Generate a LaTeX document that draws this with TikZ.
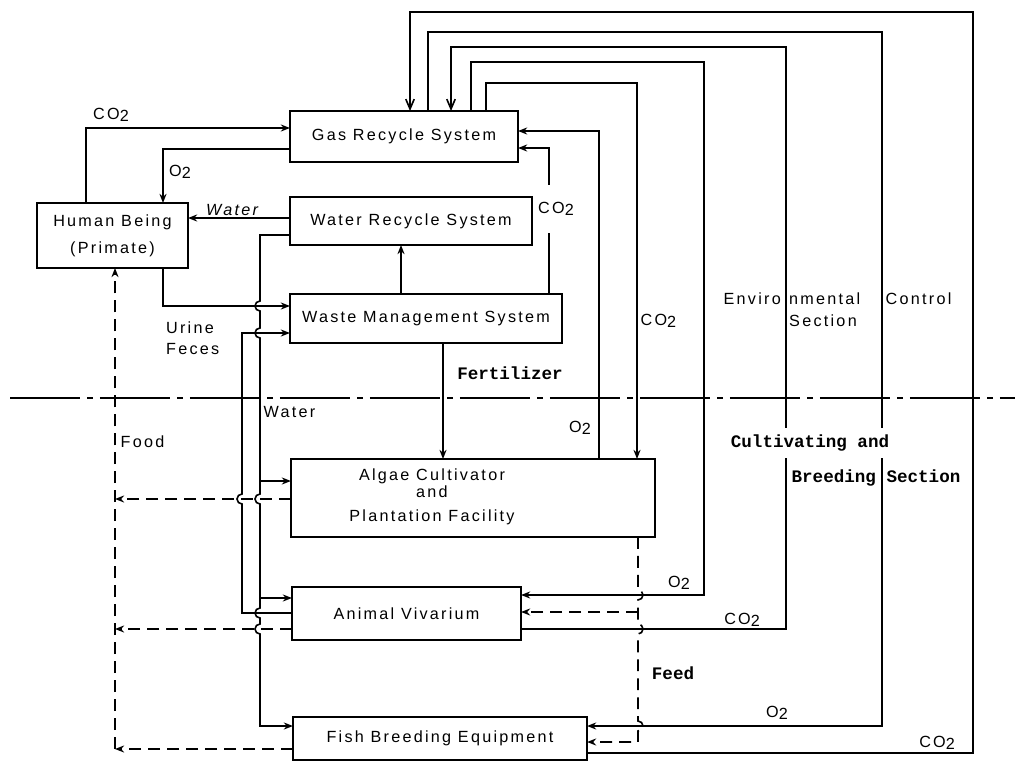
\documentclass[tikz,border=0pt]{standalone}
\usepackage{fontspec}
\setmainfont{Liberation Sans}
\newfontfamily\lettering[LetterSpace=14]{Liberation Sans}
\newfontfamily\typer{Liberation Mono}
\usetikzlibrary{arrows.meta}
\newcommand\cotwo{CO\raisebox{-0.3ex}{2}}
\newcommand\otwo{O\raisebox{-0.3ex}{2}}

\tikzset{
  box/.style={draw, line width=1.3pt, inner sep=0pt, outer sep=0pt, align=center,
    font=\lettering\fontsize{11.5}{19}\selectfont},
  flow/.style={line width=1.15pt},
  tip/.style={-{Stealth[length=6.5pt,width=5pt]}},
  vtip/.style={-{Straight Barb[length=7pt,width=6pt]}},
  food/.style={flow, dash pattern=on 8.5pt off 5pt},
  lbl/.style={font=\lettering\fontsize{11.5}{13}\selectfont, inner sep=1pt},
  typ/.style={font=\typer\bfseries\fontsize{12.5}{14}\selectfont, inner sep=1pt},
}

\begin{document}
\begin{tikzpicture}[x=0.025cm, y=-0.025cm]
\useasboundingbox (0,0) rectangle (1020,762);

\node[box, minimum width=5.7cm, minimum height=1.275cm] (grs) at (404,136.5) {Gas Recycle System};
\node[box, minimum width=3.775cm, minimum height=1.625cm] (hum) at (112.5,235.5) {Human Being\\(Primate)};
\node[box, minimum width=6.05cm, minimum height=1.2cm] (wrs) at (411,221) {Water Recycle System};
\node[box, minimum width=6.8cm, minimum height=1.225cm] (wms) at (426,318.5) {Waste Management System};
\node[box, minimum width=9.1cm, minimum height=1.95cm] (alg) at (473,498) {};
\node[lbl, align=center] (algtxt) at (432,497) {Algae Cultivator\\[-1pt]and\\[4pt]Plantation Facility};
\node[box, minimum width=5.725cm, minimum height=1.325cm] (viv) at (406.5,613.5) {Animal Vivarium};
\node[box, minimum width=7.35cm, minimum height=1.075cm] (fish) at (440,738.5) {Fish Breeding Equipment};

\draw[line width=0.9pt, dash pattern=on 50pt off 5pt on 4pt off 5pt] (10,398) -- (1015,398);

\coordinate (wa) at (260,481);
\coordinate (wv) at (260,598);
\coordinate (fd) at (115,749);
\coordinate (fa) at (115,499);
\coordinate (fv) at (115,629);
\coordinate (fe) at (638,612);

\draw[flow,tip] (hum.north -| 86,0) |- (grs.west |- 0,128);
\draw[flow,tip] (grs.west |- 0,149) -| (hum.north -| 163,0);
\draw[flow,tip] (wrs.west |- 0,218) -- (hum.east |- 0,218);
\draw[flow,tip] (hum.south -| 163,0) |- (wms.west |- 0,306);
\draw[flow,tip] (wms.north -| 401,0) -- (wrs.south -| 401,0);
\draw[flow,tip] (wms.north -| 549,0) |- (grs.east |- 0,148);
\draw[flow,tip] (wms.south -| 443,0) -- (alg.north -| 443,0);

\draw[flow,tip] (wrs.west |- 0,235) -- (260,235) -- (260,301)
  arc[start angle=90, end angle=270, radius=0.125cm] -- (260,328)
  arc[start angle=90, end angle=270, radius=0.125cm] -- (260,494)
  arc[start angle=90, end angle=270, radius=0.125cm] -- (260,608)
  arc[start angle=90, end angle=270, radius=0.125cm] -- (260,624)
  arc[start angle=90, end angle=270, radius=0.125cm] -- (260,726) -- (fish.west |- 0,726);
\draw[flow,tip] (wa) -- (alg.west |- wa);
\draw[flow,tip] (wv) -- (viv.west |- wv);
\draw[flow,tip] (viv.west |- 0,613) -- (242,613) -- (242,504)
  arc[start angle=270, end angle=90, radius=0.125cm] -- (242,333) -- (wms.west |- 0,333);

\draw[food,tip] (fd) -- (hum.south -| fd);
\draw[food,tip] (fish.west |- fd) -- (fd);
\draw[food,tip] (alg.west |- fa) -- (fa);
\draw[food,tip] (viv.west |- fv) -- (fv);

\draw[food,tip] (alg.south -| 638,0) -- (638,590)
  arc[start angle=90, end angle=-90, radius=0.125cm] -- (638,624)
  arc[start angle=90, end angle=-90, radius=0.125cm] -- (638,721)
  arc[start angle=90, end angle=-90, radius=0.125cm] -- (638,742) -- (fish.east |- 0,742);
\draw[food,tip] (fe) -- (viv.east |- fe);

\draw[flow,tip] (alg.north -| 599,0) |- (grs.east |- 0,131);
\draw[flow,tip] (grs.north -| 486,0) -- (486,83) -| (alg.north -| 637,0);
\draw[flow,tip] (grs.north -| 471,0) -- (471,62) -| (704,595) -- (viv.east |- 0,595);
\draw[flow,vtip] (viv.east |- 0,629) -| (786,47) -| (grs.north -| 451,0);
\draw[flow,tip] (grs.north -| 428,0) -- (428,32) -| (882,726) -- (fish.east |- 0,726);
\draw[flow,vtip] (fish.east |- 0,753) -| (973,12) -| (grs.north -| 410,0);

\node[lbl] (l1) at (111,115) {\cotwo};
\node[lbl] (l2) at (180,172) {\otwo};
\node[lbl] (l3) at (232,210) {\itshape Water};
\node[lbl, align=center] (l4) at (190,338) {Urine\\[2pt]\,\,Feces};
\node[lbl, anchor=west] (l5) at (262,412) {Water};
\node[lbl, fill=white, inner ysep=12pt] (l6) at (556,209) {\cotwo};
\node[lbl, anchor=west] (l7) at (639,321) {\cotwo};
\node[typ] (l8) at (510,373) {Fertilizer};
\node[lbl] (l9) at (580,428) {\otwo};
\node[lbl, anchor=west] (l10) at (119,442) {Food};
\node[lbl] (l11) at (792,299) {Enviro\hspace{6pt}nmental};
\node[lbl] (l12) at (823,321) {Section};
\node[lbl, anchor=west] (l13) at (884,299) {Control};
\node[typ, fill=white, inner ysep=5pt] (l14) at (810,443) {Cultivating and};
\node[typ] (l15) at (876,478) {Breeding Section};
\node[lbl] (l16) at (679,583) {\otwo};
\node[lbl] (l17) at (742,620) {\cotwo};
\node[typ] (l18) at (673,673) {Feed};
\node[lbl] (l19) at (777,713) {\otwo};
\node[lbl] (l20) at (937,743) {\cotwo};
\end{tikzpicture}
\end{document}
